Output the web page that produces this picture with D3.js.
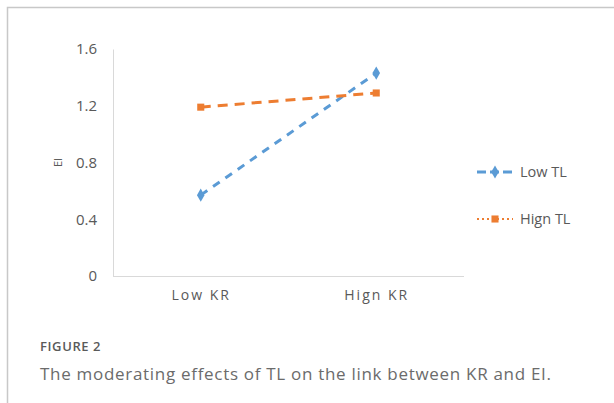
<!DOCTYPE html>
<html lang="en">
<head>
  <meta charset="UTF-8">
  <title>Figure 2</title>
  <script src="https://d3js.org/d3.v7.min.js"></script>
  <style>
    body { margin: 0; background: #fff; }
    .tick text { font-family: "Open Sans", sans-serif; fill: #595959; }
    .caption { font-family: "Open Sans", sans-serif; }
  </style>
</head>
<body>
  <div id="chart"></div>

  <script>
    // data
    const categories = ["Low KR", "Hign KR"];
    const seriesNames = ["Low TL", "Hign TL"];
    const lowTL = [0.57, 1.43];
    const highTL = [1.19, 1.29];
    const yTicks = [0, 0.4, 0.8, 1.2, 1.6];
    const colors = ["#5b9bd5", "#ed7d31"];

    const W = 614, H = 403;
    const svg = d3.select("#chart").append("svg")
      .attr("width", W).attr("height", H);

    // panel frame (top and left edges)
    svg.append("path")
      .attr("d", `M7.5,${H} V7.5 H${W}`)
      .attr("fill", "none")
      .attr("stroke", "#c8c8c8")
      .attr("stroke-width", 1.5);

    const plot = { left: 113, right: 464, top: 49, bottom: 276 };

    const x = d3.scalePoint()
      .domain(categories)
      .range([plot.left, plot.right])
      .padding(0.5);

    const y = d3.scaleLinear()
      .domain([0, 1.6])
      .range([plot.bottom, plot.top]);

    // y axis
    const yAxis = svg.append("g")
      .attr("transform", `translate(${plot.left},0)`)
      .call(d3.axisLeft(y).tickValues(yTicks).tickFormat(d => d === 0 ? "0" : d3.format(".1f")(d)).tickSize(0).tickPadding(16));
    yAxis.select(".domain").attr("stroke", "#d9d9d9");
    yAxis.selectAll("text").attr("font-size", 15);

    // x axis
    const xAxis = svg.append("g")
      .attr("transform", `translate(0,${plot.bottom})`)
      .call(d3.axisBottom(x).tickSize(0).tickPadding(14));
    xAxis.select(".domain").attr("d", `M${plot.left},0.5H${plot.right}`).attr("stroke", "#d9d9d9");
    xAxis.selectAll("text").attr("font-size", 14).attr("letter-spacing", "2px");

    // axis title
    svg.append("text")
      .attr("transform", `translate(62,${(plot.top + plot.bottom) / 2}) rotate(-90)`)
      .attr("text-anchor", "middle")
      .attr("font-family", "Open Sans, sans-serif")
      .attr("font-size", 11)
      .attr("fill", "#595959")
      .text("EI");

    const series = [
      { name: seriesNames[0], values: lowTL, color: colors[0], dash: "8,7", symbol: d3.symbolDiamond },
      { name: seriesNames[1], values: highTL, color: colors[1], dash: "10,7", symbol: d3.symbolSquare }
    ];

    const line = d3.line()
      .x((d, i) => x(categories[i]))
      .y(d => y(d));

    series.forEach(s => {
      svg.append("path")
        .datum(s.values)
        .attr("d", line)
        .attr("fill", "none")
        .attr("stroke", s.color)
        .attr("stroke-width", 3)
        .attr("stroke-dasharray", s.dash);

      svg.selectAll(null)
        .data(s.values)
        .enter()
        .append("path")
        .attr("d", d3.symbol().type(s.symbol).size(50))
        .attr("transform", (d, i) => `translate(${x(categories[i])},${y(d)})`)
        .attr("fill", s.color);
    });

    // legend
    const legend = svg.append("g");
    series.forEach((s, i) => {
      const ly = 172 + i * 47;
      legend.append("line")
        .attr("x1", 477).attr("x2", 513)
        .attr("y1", ly).attr("y2", ly)
        .attr("stroke", s.color)
        .attr("stroke-width", i === 0 ? 3 : 2)
        .attr("stroke-dasharray", i === 0 ? "9,4" : "2,3");
      legend.append("path")
        .attr("d", d3.symbol().type(s.symbol).size(50))
        .attr("transform", `translate(495,${ly})`)
        .attr("fill", s.color);
      legend.append("text")
        .attr("x", 520).attr("y", ly)
        .attr("dy", "0.35em")
        .attr("font-family", "Open Sans, sans-serif")
        .attr("font-size", 14.5)
        .attr("fill", "#595959")
        .text(s.name);
    });

    // caption
    svg.append("text")
      .attr("class", "caption")
      .attr("x", 40).attr("y", 351)
      .attr("font-size", 13)
      .attr("font-weight", 600)
      .attr("letter-spacing", "0.6px")
      .attr("fill", "#5a5a5a")
      .text("FIGURE 2");

    svg.append("text")
      .attr("class", "caption")
      .attr("x", 40).attr("y", 380)
      .attr("font-size", 17)
      .attr("letter-spacing", "0.7px")
      .attr("fill", "#6b6b6b")
      .text("The moderating effects of TL on the link between KR and EI.");
  </script>
</body>
</html>
